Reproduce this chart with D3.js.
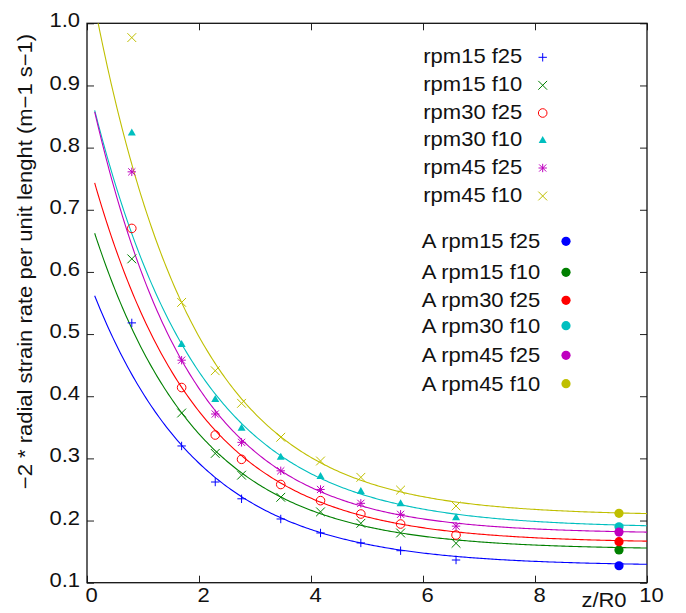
<!DOCTYPE html>
<html><head><meta charset="utf-8">
<script src="https://cdn.jsdelivr.net/npm/d3@7"></script>
<style>
body{margin:0;background:#fff}
text{font-family:"Liberation Sans",Arial,Helvetica,sans-serif;fill:#111}
</style>
</head><body><svg id="c" width="686" height="613"></svg>
<script>
// ---------- data ----------
const zR0 = [0.8, 1.69, 2.29, 2.76, 3.46, 4.17, 4.89, 5.6, 6.59];
const seriesNames = ["rpm15 f25","rpm15 f10","rpm30 f25","rpm30 f10","rpm45 f25","rpm45 f10"];
const rpm15f25 = [0.518, 0.320, 0.262, 0.235, 0.2025, 0.180, 0.164, 0.1515, 0.1365];
const rpm15f10 = [0.621, 0.373, 0.308, 0.273, 0.2374, 0.214, 0.1955, 0.180, 0.1634];
const rpm30f25 = [0.670, 0.414, 0.3376, 0.2985, 0.258, 0.232, 0.2105, 0.1944, 0.1767];
const rpm30f10 = [0.8245, 0.484, 0.3955, 0.3493, 0.3027, 0.2716, 0.2475, 0.2277, 0.2052];
const rpm45f25 = [0.761, 0.458, 0.3714, 0.3258, 0.280, 0.250, 0.2277, 0.210, 0.191];
const rpm45f10 = [0.977, 0.551, 0.441, 0.3886, 0.334, 0.2958, 0.2695, 0.249, 0.2234];
const analyticZ = 9.5;
const analyticNames = ["A rpm15 f25","A rpm15 f10","A rpm30 f25","A rpm30 f10","A rpm45 f25","A rpm45 f10"];
const analyticValues = [0.1273, 0.1526, 0.166, 0.190, 0.1815, 0.2116];
// fitted curves  f(z) = asymptote + amplitude * exp(-decay * z)
const fitAsymptote = [0.127, 0.1533, 0.164, 0.188, 0.179, 0.208];
const fitAmplitude = [0.4667, 0.548, 0.6236, 0.7225, 0.734, 0.886];
const fitDecay     = [0.519, 0.540, 0.540, 0.528, 0.5726, 0.562];
const fitRange = [0.137, 10];
const xTicks = [0, 2, 4, 6, 8, 10];
const yTicks = [0.1, 0.2, 0.3, 0.4, 0.5, 0.6, 0.7, 0.8, 0.9, 1.0];
const xTitle = "z/R0";
const yTitle = "\u22122 * radial strain rate per unit lenght (m\u22121 s\u22121)";

// ---------- style / layout ----------
const colors = ["#0000ff","#008000","#ff0000","#00bfbf","#bf00bf","#bfbf00"];
const symbols = ["plus","cross","circle","triangle","asterisk","cross"];
const FS = 20, SX = 1.1;
const L = 87, R = 647, T = 23.3, B = 582.7;
const leg1X = 423.3, leg1Y = [63.3, 91.3, 119, 146, 174, 202], leg1M = 542.7;
const leg2X = 421.7, leg2Y = [248.3, 279.3, 307.3, 332.7, 362.3, 390.7], leg2M = 566;

const svg = d3.select("#c");
const x = d3.scaleLinear().domain([0, 10]).range([L, R]);
const y = d3.scaleLinear().domain([0.1, 1.0]).range([B, T]);
const series = [rpm15f25, rpm15f10, rpm30f25, rpm30f10, rpm45f25, rpm45f10];

function stretchText(sel){ sel.attr("transform", function(){ const t = d3.select(this).attr("transform"); return (t?t+" ":"") + `scale(${SX},1)`; }); }
function label(g, px, py, str, anchor, rot){
  const t = g.append("text").attr("transform", `translate(${px},${py})` + (rot?` rotate(${rot})`:"") + ` scale(${SX},1)`)
    .attr("text-anchor", anchor || "start").style("font-size", FS + "px").text(str);
  return t;
}

// clip
svg.append("defs").append("clipPath").attr("id","clip").append("rect")
  .attr("x", L).attr("y", T).attr("width", R - L).attr("height", B - T);

// axes (inner ticks, mirrored)
const tk = 7;
const axB = svg.append("g").attr("transform", `translate(0,${B})`)
  .call(d3.axisBottom(x).tickValues(xTicks).tickSize(-tk).tickPadding(0).tickFormat(d3.format("d")));
const axT = svg.append("g").attr("transform", `translate(0,${T})`)
  .call(d3.axisTop(x).tickValues(xTicks).tickSize(-tk).tickFormat(""));
const axL = svg.append("g").attr("transform", `translate(${L},0)`)
  .call(d3.axisLeft(y).tickValues(yTicks).tickSize(-tk).tickFormat(d3.format(".1f")));
const axR = svg.append("g").attr("transform", `translate(${R},0)`)
  .call(d3.axisRight(y).tickValues(yTicks).tickSize(-tk).tickFormat(""));
[axB, axT, axL, axR].forEach(a => { a.select(".domain").remove(); a.selectAll("line").attr("stroke", "#222").attr("stroke-width", 1); });
axB.selectAll("text").attr("y", null).attr("dy", null).attr("x", null)
  .attr("transform", `translate(4,19) scale(${SX},1)`).style("font-size", FS + "px").attr("fill", "#111")
  .attr("font-family", null);
axL.selectAll("text").attr("x", null).attr("dy", null)
  .attr("transform", `translate(-7,3.6) scale(${SX},1)`).style("font-size", FS + "px").attr("fill", "#111")
  .attr("font-family", null);
axB.attr("font-family", null); axL.attr("font-family", null);

// frame
svg.append("rect").attr("x", L).attr("y", T).attr("width", R - L).attr("height", B - T)
  .attr("fill", "none").attr("stroke", "#111").attr("stroke-width", 1.3);

// fit curves
const curveG = svg.append("g").attr("clip-path", "url(#clip)");
const line = d3.line().x(d => x(d[0])).y(d => y(d[1]));
series.forEach((s, i) => {
  const zs = d3.range(0, 301).map(k => fitRange[0] + (fitRange[1] - fitRange[0]) * k / 300);
  const pts = zs.map(z => [z, fitAsymptote[i] + fitAmplitude[i] * Math.exp(-fitDecay[i] * z)]);
  curveG.append("path").datum(pts).attr("d", line).attr("fill", "none")
    .attr("stroke", colors[i]).attr("stroke-width", 1.1);
});

// markers
function marker(g, type, cx, cy, col){
  const h = 4.2, hx = 4.4;
  if (type === "plus" || type === "asterisk") {
    g.append("path").attr("d", `M${cx-h},${cy}H${cx+h}M${cx},${cy-h}V${cy+h}`).attr("stroke", col).attr("stroke-width", 1).attr("fill","none");
  }
  if (type === "cross" || type === "asterisk") {
    const d = type === "cross" ? hx : h*0.85;
    g.append("path").attr("d", `M${cx-d},${cy-d}L${cx+d},${cy+d}M${cx-d},${cy+d}L${cx+d},${cy-d}`).attr("stroke", col).attr("stroke-width", 1).attr("fill","none");
  }
  if (type === "circle") {
    g.append("circle").attr("cx", cx).attr("cy", cy).attr("r", 4.3).attr("fill", "none").attr("stroke", col).attr("stroke-width", 1);
  }
  if (type === "triangle") {
    g.append("path").attr("d", `M${cx-4},${cy+3}L${cx+4},${cy+3}L${cx},${cy-4}Z`).attr("fill", col);
  }
  if (type === "dot") {
    g.append("circle").attr("cx", cx).attr("cy", cy).attr("r", 4.6).attr("fill", col);
  }
}
const mG = svg.append("g");
series.forEach((s, i) => {
  s.forEach((v, j) => marker(mG, symbols[i], x(zR0[j]), y(v), colors[i]));
});
analyticValues.forEach((v, i) => marker(mG, "dot", x(analyticZ), y(v), colors[i]));

// legend
const lg = svg.append("g");
seriesNames.forEach((n, i) => {
  label(lg, leg1X, leg1Y[i], n, "start");
  marker(lg, symbols[i], leg1M, leg1Y[i] - 6, colors[i]);
});
analyticNames.forEach((n, i) => {
  label(lg, leg2X, leg2Y[i], n, "start");
  marker(lg, "dot", leg2M, leg2Y[i] - 7, colors[i]);
});

// axis titles
label(svg, 604, 606.5, xTitle, "middle");
label(svg, 31.5, 261.5, yTitle, "middle", -90);
</script></body></html>
